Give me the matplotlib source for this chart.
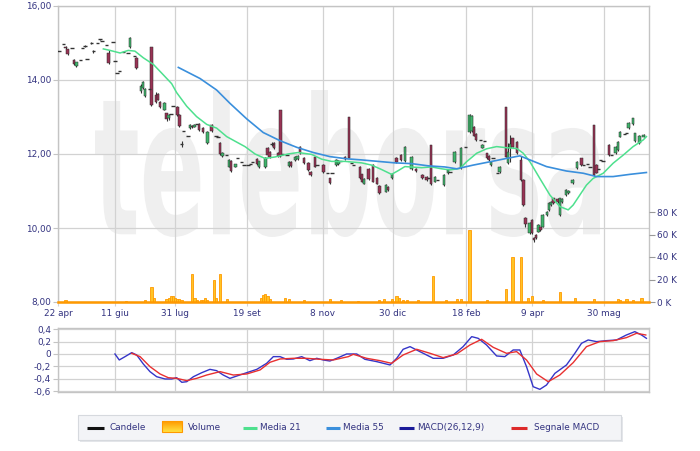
import matplotlib
matplotlib.use('Agg')
import matplotlib.pyplot as plt
import numpy as np
from matplotlib.textpath import TextPath
from matplotlib.patches import PathPatch, Rectangle, FancyBboxPatch
from matplotlib.font_manager import FontProperties
from matplotlib.transforms import Affine2D

# ---------------- data ----------------
tick_pos = [-0.5, 26.0, 54.0, 87.4, 122.8, 155.4, 189.4, 220.1, 253.6]
tick_lab = ['22 apr', '11 giu', '31 lug', '19 set', '8 nov', '30 dic', '18 feb', '9 apr', '30 mag']
price_ticks = [8, 10, 12, 14, 16]
price_labels = ['8,00', '10,00', '12,00', '14,00', '16,00']
vol_ticks = [0, 20, 40, 60, 80]
vol_labels = ['0 K', '20 K', '40 K', '60 K', '80 K']
macd_ticks = [0.4, 0.2, 0, -0.2, -0.4, -0.6]
macd_labels = ['0,4', '0,2', '0', '-0,2', '-0,4', '-0,6']

cd_day = [0, 2, 3, 4, 6, 7, 8, 10, 11, 12,
          13, 15, 16, 18, 19, 20, 22, 23, 25, 26,
          27, 28, 30, 32, 33, 35, 36, 38, 39, 40,
          42, 43, 45, 46, 47, 49, 50, 51, 52, 53,
          55, 56, 57, 58, 60, 61, 62, 63, 64, 65,
          67, 69, 71, 73, 74, 75, 76, 78, 79, 80,
          82, 83, 85, 86, 88, 89, 90, 92, 93, 96,
          97, 98, 99, 100, 102, 103, 104, 106, 107, 108,
          110, 111, 112, 114, 116, 117, 119, 120, 123, 125,
          126, 127, 129, 130, 131, 133, 135, 136, 137, 140,
          141, 142, 144, 146, 148, 149, 152, 153, 155, 157,
          159, 161, 164, 166, 169, 171, 172, 173, 175, 176,
          179, 181, 182, 184, 187, 189, 191, 192, 193, 194,
          196, 197, 198, 199, 200, 201, 202, 204, 205, 208,
          209, 210, 211, 213, 215, 216, 217, 219, 220, 221,
          222, 223, 224, 225, 227, 228, 229, 230, 232, 233,
          234, 236, 237, 239, 241, 243, 244, 246, 247, 249,
          250, 251, 252, 253, 256, 257, 259, 260, 261, 263,
          264, 265, 267, 268, 270, 272]
cd_open = [14.79, 14.96, 14.90, 14.83, 14.86, 14.54, 14.38, 14.54, 14.86, 14.92,
           14.56, 14.99, 14.78, 14.99, 15.10, 15.06, 14.95, 14.72, 15.04, 14.51,
           14.18, 14.25, 14.75, 14.72, 14.88, 14.65, 14.59, 13.70, 13.78, 13.56,
           13.75, 14.90, 13.60, 13.62, 13.40, 13.20, 13.10, 12.98, 13.09, 13.30,
           13.27, 13.06, 12.27, 12.63, 12.49, 12.70, 12.76, 12.74, 12.80, 12.81,
           12.70, 12.29, 12.78, 12.50, 12.47, 12.30, 11.95, 11.97, 11.66, 11.82,
           11.66, 11.88, 11.79, 11.70, 11.70, 11.73, 11.78, 11.86, 11.64, 11.65,
           12.16, 12.05, 12.28, 12.30, 12.03, 13.19, 12.00, 11.97, 11.68, 11.79,
           11.84, 11.86, 12.20, 11.89, 11.76, 11.52, 11.93, 11.70, 11.70, 11.50,
           11.34, 11.49, 11.70, 11.72, 11.80, 11.93, 13.01, 11.76, 11.70, 11.66,
           11.45, 11.20, 11.60, 11.70, 11.35, 11.14, 10.98, 11.11, 11.34, 11.89,
           11.97, 11.80, 11.60, 11.60, 11.43, 11.38, 11.34, 12.24, 11.25, 11.30,
           11.16, 11.48, 11.52, 11.79, 11.61, 12.20, 12.60, 12.62, 12.74, 12.55,
           12.38, 12.17, 12.35, 12.02, 11.95, 11.70, 11.90, 11.48, 11.52, 13.28,
           11.75, 12.15, 12.42, 12.33, 11.84, 11.30, 10.27, 9.86, 10.22, 9.73,
           9.81, 9.90, 10.02, 10.04, 10.35, 10.49, 10.62, 10.80, 10.78, 10.35,
           10.70, 10.89, 10.95, 11.21, 11.61, 11.88, 11.70, 11.72, 11.66, 12.78,
           11.70, 11.60, 11.84, 11.80, 12.24, 11.97, 12.02, 12.10, 12.47, 12.55,
           12.56, 12.69, 12.80, 12.35, 12.29, 12.47]
cd_high = [14.79, 14.96, 14.92, 14.85, 14.86, 14.56, 14.50, 14.54, 14.86, 14.95,
           14.56, 15.02, 14.82, 14.99, 15.12, 15.06, 14.95, 14.80, 15.04, 14.51,
           14.18, 14.25, 14.75, 14.72, 15.15, 14.65, 14.62, 13.88, 13.97, 13.78,
           13.75, 14.90, 13.68, 13.64, 13.42, 13.40, 13.12, 13.08, 13.09, 13.30,
           13.30, 13.08, 12.35, 12.63, 12.49, 12.80, 12.78, 12.80, 12.80, 12.84,
           12.72, 12.62, 12.80, 12.50, 12.47, 12.32, 12.05, 11.97, 11.86, 11.84,
           11.74, 11.88, 11.79, 11.70, 11.70, 11.73, 11.78, 11.88, 11.82, 11.91,
           12.18, 12.07, 12.33, 12.33, 12.05, 13.19, 12.00, 11.97, 11.81, 11.81,
           11.95, 11.97, 12.22, 11.91, 11.78, 11.54, 11.95, 11.70, 11.72, 11.50,
           11.36, 11.49, 11.86, 11.84, 11.80, 11.95, 13.01, 11.76, 11.70, 11.68,
           11.47, 11.35, 11.62, 11.72, 11.37, 11.16, 11.18, 11.13, 11.49, 11.91,
           11.99, 12.22, 11.95, 11.62, 11.45, 11.40, 11.34, 12.24, 11.41, 11.30,
           11.45, 11.59, 11.52, 12.08, 12.20, 12.20, 13.07, 13.05, 12.76, 12.57,
           12.38, 12.26, 12.35, 12.04, 11.97, 11.81, 11.90, 11.48, 11.68, 13.28,
           12.29, 12.51, 12.44, 12.35, 11.95, 11.32, 10.29, 10.15, 10.24, 9.75,
           9.83, 10.10, 10.04, 10.37, 10.46, 10.69, 10.73, 10.82, 10.80, 10.82,
           10.80, 11.05, 11.02, 11.32, 11.81, 11.90, 11.70, 11.72, 11.66, 12.78,
           11.72, 11.60, 11.84, 11.80, 12.26, 11.97, 12.22, 12.35, 12.62, 12.55,
           12.56, 12.87, 12.98, 12.58, 12.52, 12.53]
cd_low = [14.79, 14.96, 14.85, 14.68, 14.86, 14.40, 14.36, 14.54, 14.86, 14.90,
          14.56, 14.97, 14.72, 14.99, 15.08, 15.06, 14.95, 14.42, 15.04, 14.51,
          14.18, 14.25, 14.75, 14.72, 14.86, 14.65, 14.30, 13.66, 13.76, 13.54,
          13.75, 13.30, 13.38, 13.45, 13.25, 13.18, 12.90, 12.92, 13.09, 13.30,
          13.04, 12.74, 12.20, 12.63, 12.49, 12.68, 12.70, 12.72, 12.80, 12.63,
          12.58, 12.27, 12.60, 12.50, 12.47, 11.98, 11.93, 11.97, 11.64, 11.52,
          11.64, 11.88, 11.79, 11.70, 11.70, 11.73, 11.78, 11.70, 11.62, 11.63,
          11.96, 11.90, 12.22, 12.13, 11.93, 11.93, 12.00, 11.97, 11.66, 11.66,
          11.82, 11.84, 12.00, 11.72, 11.55, 11.40, 11.64, 11.70, 11.50, 11.50,
          11.20, 11.49, 11.68, 11.70, 11.80, 11.84, 11.88, 11.76, 11.70, 11.33,
          11.23, 11.18, 11.31, 11.23, 11.18, 10.93, 10.96, 11.01, 11.32, 11.77,
          11.82, 11.78, 11.57, 11.51, 11.33, 11.28, 11.34, 11.16, 11.23, 11.30,
          11.14, 11.46, 11.52, 11.77, 11.59, 12.20, 12.58, 12.60, 12.48, 12.36,
          12.38, 12.15, 12.35, 11.86, 11.82, 11.68, 11.90, 11.48, 11.50, 11.91,
          11.73, 11.79, 12.18, 12.00, 11.28, 10.60, 10.04, 9.84, 9.84, 9.63,
          9.70, 9.88, 9.93, 10.02, 10.33, 10.47, 10.60, 10.65, 10.68, 10.33,
          10.68, 10.87, 10.93, 11.19, 11.59, 11.68, 11.70, 11.72, 11.66, 11.41,
          11.48, 11.60, 11.84, 11.80, 11.95, 11.97, 12.00, 12.08, 12.45, 12.55,
          12.56, 12.67, 12.78, 12.33, 12.27, 12.45]
cd_close = [14.79, 14.96, 14.86, 14.70, 14.86, 14.42, 14.48, 14.54, 14.86, 14.92,
            14.56, 14.99, 14.78, 14.99, 15.10, 15.06, 14.95, 14.47, 15.04, 14.51,
            14.18, 14.25, 14.75, 14.72, 15.13, 14.65, 14.32, 13.85, 13.94, 13.76,
            13.75, 13.33, 13.40, 13.47, 13.27, 13.38, 12.95, 13.05, 13.09, 13.30,
            13.06, 12.76, 12.27, 12.63, 12.49, 12.78, 12.72, 12.78, 12.80, 12.65,
            12.60, 12.60, 12.63, 12.50, 12.47, 12.00, 12.03, 11.97, 11.84, 11.55,
            11.72, 11.88, 11.79, 11.70, 11.70, 11.73, 11.78, 11.73, 11.80, 11.89,
            11.98, 11.92, 12.28, 12.15, 11.95, 11.95, 12.00, 11.97, 11.79, 11.68,
            11.93, 11.95, 12.02, 11.75, 11.58, 11.43, 11.66, 11.70, 11.52, 11.50,
            11.22, 11.49, 11.84, 11.82, 11.80, 11.86, 11.90, 11.76, 11.70, 11.35,
            11.25, 11.33, 11.33, 11.25, 11.20, 10.95, 11.16, 11.03, 11.47, 11.79,
            11.84, 12.20, 11.93, 11.53, 11.35, 11.30, 11.34, 11.18, 11.39, 11.30,
            11.43, 11.57, 11.52, 12.06, 12.15, 12.20, 13.05, 13.03, 12.50, 12.38,
            12.38, 12.24, 12.35, 11.88, 11.84, 11.79, 11.90, 11.48, 11.66, 11.93,
            12.05, 12.28, 12.20, 12.02, 11.30, 10.62, 10.10, 10.13, 9.86, 9.68,
            9.72, 10.08, 9.95, 10.35, 10.44, 10.67, 10.71, 10.67, 10.70, 10.80,
            10.78, 11.03, 11.00, 11.30, 11.79, 11.70, 11.70, 11.72, 11.66, 11.43,
            11.50, 11.60, 11.84, 11.80, 11.97, 11.97, 12.20, 12.33, 12.60, 12.55,
            12.56, 12.85, 12.96, 12.56, 12.50, 12.51]

vol_day = [3, 31, 40, 43, 44, 50, 51, 52, 53, 54, 55, 56, 57, 62, 63, 64, 66, 67, 68, 69,
           72, 73, 75, 78, 94, 95, 96, 97, 98, 105, 107, 114, 126, 131, 139, 149, 151, 155,
           157, 158, 160, 162, 167, 174, 180, 185, 187, 191, 199, 208, 211, 215, 218, 220,
           225, 233, 240, 249, 260, 261, 264, 267, 271]
vol_k = [2, 1, 2, 13, 4, 3, 4, 5, 5, 4, 3, 3, 2, 25, 4, 2, 2, 2, 4, 2,
         20, 4, 25, 3, 4, 6, 7, 5, 3, 4, 3, 2, 3, 2, 1, 2, 3, 3,
         5, 4, 2, 2, 2, 23, 2, 3, 3, 64, 2, 12, 40, 40, 4, 5,
         2, 9, 4, 3, 3, 2, 3, 2, 4]

ma21_day = [20.6, 23.7, 28.4, 32.2, 35.3, 39.2, 43.9, 48.5, 52.4, 54.7, 59.4, 64.0, 68.7,
            73.3, 78.0, 82.7, 86.5, 91.2, 95.8, 100.5, 106.5, 111.2, 117.5, 122.2, 126.8,
            133.0, 140.8, 145.4, 150.1, 154.7, 157.8, 160.9, 168.7, 173.3, 178.0, 181.9,
            186.5, 189.6, 194.3, 198.9, 203.6, 208.2, 212.9, 216.0, 219.1, 223.7, 228.4,
            233.0, 236.9, 239.2, 242.3, 245.4, 248.5, 253.2, 257.8, 262.5, 267.1, 271.8, 273.3]
ma21_val = [14.84, 14.80, 14.73, 14.80, 14.78, 14.60, 14.42, 14.14, 13.90, 13.66, 13.29, 13.01, 12.80,
            12.70, 12.47, 12.32, 12.20, 12.00, 11.88, 11.92, 12.00, 12.04, 11.99, 11.86, 11.80,
            11.80, 11.76, 11.70, 11.58, 11.45, 11.55, 11.66, 11.63, 11.65, 11.60, 11.57,
            11.61, 11.79, 12.02, 12.14, 12.20, 12.17, 12.15, 12.02, 11.79, 11.34, 10.89,
            10.58, 10.49, 10.62, 10.89, 11.16, 11.34, 11.48, 11.75, 11.97, 12.20, 12.38, 12.47]

ma55_day = [55.5, 65.6, 73.3, 79.5, 87.3, 95.0, 102.8, 110.6, 118.3, 126.0, 133.8, 140.8,
            148.5, 156.3, 164.0, 171.8, 179.5, 185.0, 192.7, 200.5, 208.2, 214.4, 219.1,
            226.8, 236.1, 243.9, 250.1, 257.8, 265.6, 273.3]
ma55_val = [14.34, 14.04, 13.73, 13.37, 12.95, 12.58, 12.36, 12.18, 12.04, 11.93, 11.87, 11.84,
            11.80, 11.76, 11.74, 11.68, 11.65, 11.60, 11.70, 11.79, 11.88, 11.95, 11.84,
            11.66, 11.54, 11.48, 11.39, 11.39, 11.45, 11.50]

macd_day = [26.0, 28.0, 30.7, 33.8, 36.1, 39.2, 42.3, 45.4, 49.3, 52.4, 54.7, 57.1, 59.4,
            62.5, 66.4, 70.2, 73.3, 76.4, 79.5, 82.7, 87.3, 92.0, 96.6, 99.7, 102.8, 105.9,
            109.0, 112.9, 116.7, 119.9, 122.9, 126.0, 129.2, 133.8, 138.5, 142.3, 147.8,
            154.0, 157.1, 160.1, 163.3, 167.9, 174.1, 178.7, 183.4, 188.0, 192.0, 195.0,
            198.9, 203.6, 207.4, 211.3, 214.4, 217.5, 220.6, 223.7, 226.8, 230.7, 236.1,
            240.0, 243.1, 246.2, 250.1, 254.7, 259.4, 264.0, 267.9, 271.0, 273.3]
macd_val = [0.0, -0.097, -0.043, 0.022, -0.016, -0.162, -0.286, -0.368, -0.405, -0.405, -0.384, -0.459, -0.449,
            -0.368, -0.303, -0.249, -0.27, -0.341, -0.395, -0.357, -0.303, -0.249, -0.151, -0.043, -0.043, -0.086,
            -0.081, -0.043, -0.108, -0.07, -0.097, -0.114, -0.07, 0.0, 0.0, -0.086, -0.124,
            -0.178, -0.07, 0.076, 0.119, 0.038, -0.07, -0.07, -0.016, 0.119, 0.281, 0.254,
            0.146, -0.032, -0.043, 0.065, 0.065, -0.205, -0.53, -0.573, -0.503, -0.314, -0.178,
            0.011, 0.173, 0.227, 0.2, 0.216, 0.227, 0.308, 0.362, 0.308, 0.254]

sig_day = [33.8, 37.7, 42.3, 47.0, 50.8, 54.7, 59.4, 64.0, 68.7, 74.9, 81.1, 87.3, 93.5,
           98.1, 102.8, 109.0, 115.2, 121.4, 127.6, 134.6, 136.9, 143.1, 149.3, 154.7,
           160.1, 166.4, 172.6, 178.7, 185.0, 191.2, 196.6, 202.0, 208.2, 212.9, 217.5,
           222.2, 227.6, 233.0, 239.2, 245.4, 251.6, 257.8, 264.0, 268.7, 273.0]
sig_val = [0.011, -0.043, -0.205, -0.324, -0.384, -0.395, -0.432, -0.395, -0.341, -0.286, -0.341, -0.324, -0.259,
           -0.135, -0.081, -0.07, -0.07, -0.086, -0.097, -0.043, -0.005, -0.07, -0.108, -0.151,
           -0.016, 0.076, 0.011, -0.059, 0.0, 0.146, 0.238, 0.108, 0.011, 0.038, -0.097,
           -0.324, -0.449, -0.341, -0.141, 0.119, 0.2, 0.216, 0.265, 0.335, 0.308]

legend_names = ['Candele', 'Volume', 'Media 21', 'Media 55', 'MACD(26,12,9)', 'Segnale MACD']

# ---------------- style ----------------
NAVY = '#333380'
GRID = '#d2d2d2'
SPINE = '#c4c4c4'
FS = 6.4
C_UP, C_DN, C_WICK = '#3fb56c', '#993355', '#333333'
C_MA21, C_MA55 = '#4ee08e', '#3a8fdc'
C_MACD, C_SIG = '#3535c8', '#e83030'
C_VOL_F, C_VOL_E = '#ffc425', '#ff9900'

W, H = 700, 451
fig = plt.figure(figsize=(7.0, 4.51), dpi=100, facecolor='white')


def rect(l, t, r, b):
    return [l / W, 1 - b / H, (r - l) / W, (b - t) / H]


ax = fig.add_axes(rect(58, 6, 649, 302))
axv = ax.twinx()
axm = fig.add_axes(rect(58, 328, 649, 392))

NSLOT = 275
for a in (ax, axm):
    a.set_xlim(-0.5, NSLOT - 0.5)
    a.set_xticks(tick_pos)
    a.grid(True, color=GRID, lw=0.9, zorder=1)
    a.set_axisbelow(True)
    for s in a.spines.values():
        s.set_color(SPINE)
        s.set_linewidth(1.0)
    a.tick_params(axis='y', colors=SPINE, labelcolor=NAVY, labelsize=FS, length=3.6, pad=1.5, width=0.8)

ax.set_xticklabels(tick_lab)
ax.tick_params(axis='x', colors=GRID, labelcolor=NAVY, labelsize=FS, length=3, pad=2)
axm.set_xticklabels([])
axm.tick_params(axis='x', length=0)

# watermark
fp = FontProperties(family='DejaVu Sans', weight='bold')
tp = TextPath((0, 0), 'teleborsa', size=100, prop=fp)
ext = tp.get_extents()
x0, x1 = (95 - 58) / 591, (600 - 58) / 591
y0, y1 = (302 - 237) / 296, (302 - 90) / 296
tr = Affine2D().translate(-ext.x0, -ext.y0).scale((x1 - x0) / ext.width, (y1 - y0) / ext.height).translate(x0, y0) + ax.transAxes
ax.add_patch(PathPatch(tp, transform=tr, facecolor='#efefef', edgecolor='none', zorder=0))

# price axis
ax.set_ylim(8, 16)
ax.set_yticks(price_ticks)
ax.set_yticklabels(price_labels)

# candles
d = np.array(cd_day, dtype=float)
o = np.array(cd_open); c = np.array(cd_close)
hi = np.array(cd_high); lo = np.array(cd_low)
up = c > o
dn = c < o
eq = ~(up | dn)
ax.vlines(d, lo, hi, color=C_WICK, lw=0.8, zorder=3)
body = ~eq
ax.bar(d[body], np.abs(c - o)[body], bottom=np.minimum(o, c)[body], width=1.15,
       color=np.where(up[body], C_UP, C_DN), edgecolor='#2a2a2a', lw=0.35, zorder=4)
ax.hlines(o[eq], d[eq] - 0.8, d[eq] + 0.8, color=C_WICK, lw=1.0, zorder=4)

# moving averages
ax.plot(ma21_day, ma21_val, color=C_MA21, lw=1.1, zorder=5)
ax.plot(ma55_day, ma55_val, color=C_MA55, lw=1.2, zorder=5)

# volume
axv.set_ylim(0, 296 / 1.125)
axv.set_yticks(vol_ticks)
axv.set_yticklabels(vol_labels)
axv.tick_params(axis='y', colors='#999999', labelcolor=NAVY, labelsize=FS, length=4, pad=2, width=0.8)
for s in axv.spines.values():
    s.set_visible(False)
axv.bar(vol_day, vol_k, width=1.0, color=C_VOL_F, edgecolor=C_VOL_E, lw=0.6, zorder=2)
axv.axhline(0, color=C_VOL_E, lw=1.8, clip_on=False, zorder=6)

# MACD
axm.set_ylim(-0.616, 0.421)
axm.set_yticks(macd_ticks)
axm.set_yticklabels(macd_labels)
axm.plot(macd_day, macd_val, color=C_MACD, lw=1.0, zorder=3)
axm.plot(sig_day, sig_val, color=C_SIG, lw=1.0, zorder=4)

# legend (figure pixel coordinates)
lg = fig.add_axes([0, 0, 1, 1])
lg.set_xlim(0, W)
lg.set_ylim(H, 0)
lg.axis('off')
lg.add_patch(Rectangle((80, 417), 543, 25, facecolor='#e4e6ea', edgecolor='none'))
lg.add_patch(Rectangle((78, 415), 543, 25, facecolor='#f3f4f7', edgecolor='#d6d9de', lw=0.8))
yl = 427.5
line_items = [(86.5, 103.5, '#111111'), (242.5, 256.5, C_MA21), (325.5, 339.5, C_MA55),
              (399, 414, '#1a1a99'), (511, 527, '#dd2a2a')]
for x0_, x1_, col in line_items:
    lg.plot([x0_, x1_], [yl, yl], color=col, lw=2.2, solid_capstyle='butt')
grad = np.linspace(0, 1, 20).reshape(-1, 1)
lg.imshow(grad, extent=(162, 182, 432, 421), cmap=matplotlib.colors.LinearSegmentedColormap.from_list('v', ['#ff9a00', '#ffe040']),
          aspect='auto', zorder=3)
lg.add_patch(Rectangle((162, 421), 20, 11, fill=False, edgecolor='#ff9900', lw=0.8, zorder=4))
text_x = [110, 188, 260, 343, 417.5, 534]
for tx, name in zip(text_x, legend_names):
    lg.text(tx, yl, name, color=NAVY, fontsize=FS, va='center', ha='left')

fig.savefig('out.png', dpi=100, facecolor='white')
